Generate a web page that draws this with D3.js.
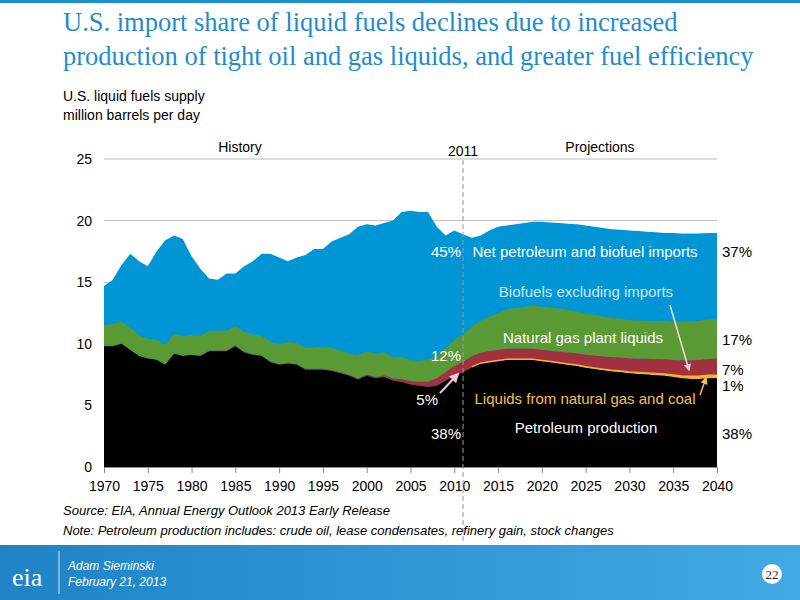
<!DOCTYPE html>
<html>
<head>
<meta charset="utf-8">
<script src="https://cdn.jsdelivr.net/npm/d3@7"></script>
<style>
  body { margin: 0; background: #fff; }
  svg { font-family: Arial, "Liberation Sans", sans-serif; }
</style>
</head>
<body>
<svg id="chart" width="800" height="600"></svg>
<script>
// years 1970..2040
const years = d3.range(1970, 2041);

// total liquid fuels supply (top of stack)
const total = [
  14.7,15.2,16.4,17.3,16.7,16.3,17.5,18.4,18.8,18.5,
  17.1,16.1,15.3,15.2,15.7,15.7,16.3,16.7,17.3,17.3,
  17.0,16.7,17.0,17.2,17.7,17.7,18.3,18.6,18.9,19.5,
  19.7,19.6,19.8,20.0,20.7,20.8,20.7,20.7,19.5,18.8,
  19.2,18.9,18.6,18.8,19.2,19.5,19.6,19.7,19.8,19.9,
  19.9,19.85,19.8,19.75,19.7,19.6,19.5,19.4,19.3,19.25,
  19.2,19.15,19.1,19.05,19.0,19.0,18.95,18.95,18.95,19.0,19.0
];
const petroleum = [
  9.8,9.8,10.0,9.5,9.0,8.8,8.7,8.3,9.2,9.0,
  9.1,9.0,9.4,9.4,9.4,9.8,9.3,9.1,9.0,8.5,
  8.3,8.4,8.3,7.9,7.9,7.9,7.8,7.6,7.4,7.1,
  7.4,7.2,7.3,7.0,6.9,6.7,6.6,6.5,6.6,7.0,
  7.4,7.7,8.1,8.4,8.5,8.6,8.7,8.7,8.7,8.7,
  8.6,8.5,8.4,8.3,8.2,8.05,7.95,7.85,7.75,7.7,
  7.6,7.55,7.5,7.45,7.4,7.3,7.2,7.15,7.15,7.2,7.2
];
const gasCoal = [
  0,0,0,0,0,0,0,0,0,0, 0,0,0,0,0,0,0,0,0,0,
  0,0,0,0,0,0,0,0,0,0, 0,0,0,0,0,0,0,0,0,0,
  0,0,0.03,0.03,0.04,0.04,0.04,0.05,0.05,0.05,
  0.05,0.06,0.06,0.07,0.07,0.08,0.08,0.09,0.1,0.1,
  0.11,0.12,0.13,0.14,0.15,0.17,0.19,0.21,0.23,0.24,0.25
];
const biofuels = [
  0,0,0,0,0,0,0,0,0,0, 0.02,0.03,0.04,0.05,0.05,0.05,0.05,0.05,0.05,0.05,
  0.05,0.05,0.06,0.07,0.07,0.07,0.06,0.07,0.08,0.08,
  0.1,0.1,0.12,0.18,0.22,0.26,0.32,0.42,0.6,0.7,
  0.8,0.85,0.85,0.85,0.85,0.85,0.85,0.85,0.85,0.85,
  0.85,0.87,0.9,0.92,0.95,0.98,1.0,1.02,1.05,1.08,
  1.1,1.12,1.15,1.17,1.2,1.22,1.25,1.28,1.3,1.33,1.35
];
const ngpl = [
  1.7,1.8,1.8,1.8,1.7,1.6,1.6,1.6,1.6,1.6,
  1.6,1.6,1.6,1.6,1.6,1.6,1.6,1.6,1.6,1.6,
  1.6,1.7,1.7,1.7,1.7,1.8,1.8,1.8,1.7,1.9,
  1.9,1.9,1.9,1.7,1.8,1.7,1.7,1.8,1.8,1.9,
  2.1,2.2,2.4,2.6,2.8,3.0,3.2,3.3,3.4,3.5,
  3.5,3.5,3.5,3.45,3.4,3.35,3.3,3.25,3.2,3.15,
  3.1,3.1,3.1,3.1,3.1,3.1,3.15,3.15,3.2,3.2,3.2
];
const yTicks = [0, 5, 10, 15, 20, 25];
const xTicks = d3.range(1970, 2041, 5);

const svg = d3.select('#chart');

// top blue rule and footer band
svg.append('rect').attr('x', 0).attr('y', 0).attr('width', 800).attr('height', 3).attr('fill', '#1a8fd1');
const grad = svg.append('defs').append('linearGradient').attr('id', 'foot');
grad.append('stop').attr('offset', '0%').attr('stop-color', '#1f83c6');
grad.append('stop').attr('offset', '100%').attr('stop-color', '#41a9e3');
svg.append('rect').attr('x', 0).attr('y', 545).attr('width', 800).attr('height', 55).attr('fill', 'url(#foot)');
svg.append('text').attr('x', 12).attr('y', 586).attr('fill', '#fff')
  .style('font-family', '"Liberation Serif", serif').style('font-size', '26px').text('eia');
svg.append('line').attr('x1', 59).attr('x2', 59).attr('y1', 551).attr('y2', 594).attr('stroke', '#cfe8f7');
svg.append('text').attr('x', 68).attr('y', 570).attr('fill', '#fff').style('font-style', 'italic').style('font-size', '12px').text('Adam Sieminski');
svg.append('text').attr('x', 68).attr('y', 586).attr('fill', '#fff').style('font-style', 'italic').style('font-size', '12px').text('February 21, 2013');
svg.append('circle').attr('cx', 772).attr('cy', 574).attr('r', 10).attr('fill', '#fff');
svg.append('text').attr('x', 772).attr('y', 579).attr('text-anchor', 'middle').attr('fill', '#333')
  .style('font-family', '"Liberation Serif", serif').style('font-size', '13px').text('22');

// title
const title = svg.append('text').attr('fill', '#1f8ccd')
  .style('font-family', '"Liberation Serif", "Times New Roman", serif').style('font-size', '26.5px');
title.append('tspan').attr('x', 63).attr('y', 31).text('U.S. import share of liquid fuels declines due to increased');
title.append('tspan').attr('x', 63).attr('y', 65).text('production of tight oil and gas liquids, and greater fuel efficiency');
svg.append('text').attr('x', 63).attr('y', 101).style('font-size', '14px').text('U.S. liquid fuels supply');
svg.append('text').attr('x', 63).attr('y', 120).style('font-size', '14px').text('million barrels per day');

// scales
const x = d3.scaleLinear().domain([1970, 2040]).range([104, 717]);
const y = d3.scaleLinear().domain([0, 25]).range([467, 159]);

// gridlines
svg.append('g').selectAll('line').data(yTicks.slice(1)).join('line')
  .attr('x1', 104).attr('x2', 717).attr('y1', d => y(d)).attr('y2', d => y(d))
  .attr('stroke', '#bbb').attr('stroke-width', 1);

// total area (imports visible above stack)
const rows = years.map((yr, i) => ({ year: yr, petroleum: petroleum[i], gasCoal: gasCoal[i], biofuels: biofuels[i], ngpl: ngpl[i], total: total[i] }));
svg.append('path').datum(rows)
  .attr('fill', '#0096d6')
  .attr('d', d3.area().x(d => x(d.year)).y0(y(0)).y1(d => y(d.total)));

const keys = ['petroleum', 'gasCoal', 'biofuels', 'ngpl'];
const colors = { petroleum: '#000', gasCoal: '#f5b51e', biofuels: '#a3303f', ngpl: '#5a9a35' };
const stacked = d3.stack().keys(keys)(rows);
// draw from top down so thin yellow band stays visible
svg.append('g').selectAll('path').data(stacked.slice().reverse()).join('path')
  .attr('fill', d => colors[d.key])
  .attr('d', d3.area().x(d => x(d.data.year)).y0(d => y(d[0])).y1(d => y(d[1])));
// yellow line at top of petroleum in projections
svg.append('path').datum(rows.filter(d => d.year >= 2012))
  .attr('fill', 'none').attr('stroke', '#f5b51e').attr('stroke-width', 1.5)
  .attr('d', d3.line().x(d => x(d.year)).y(d => y(d.petroleum + d.gasCoal)));

// axes
const xAxis = svg.append('g').attr('transform', `translate(0,${y(0)})`)
  .call(d3.axisBottom(x).tickValues(xTicks).tickFormat(d3.format('d')).tickSize(6).tickSizeOuter(0));
xAxis.select('.domain').attr('stroke', '#888');
xAxis.selectAll('.tick line').attr('stroke', '#888');
xAxis.selectAll('text').style('font-size', '14px').attr('fill', '#000').attr('dy', '1.1em');
const yAxis = svg.append('g').attr('transform', 'translate(104,0)')
  .call(d3.axisLeft(y).tickValues(yTicks).tickSize(0).tickPadding(12));
yAxis.select('.domain').remove();
yAxis.selectAll('text').style('font-size', '14px').attr('fill', '#000');

// 2011 divider
svg.append('line').attr('x1', x(2011)).attr('x2', x(2011)).attr('y1', 160).attr('y2', 543)
  .attr('stroke', '#999').attr('stroke-dasharray', '5,3');
svg.append('text').attr('x', 240).attr('y', 152).attr('text-anchor', 'middle').style('font-size', '14px').text('History');
svg.append('text').attr('x', x(2011)).attr('y', 156).attr('text-anchor', 'middle').style('font-size', '14px').text('2011');
svg.append('text').attr('x', 600).attr('y', 152).attr('text-anchor', 'middle').style('font-size', '14px').text('Projections');

// series labels
function label(tx, ty, t, fill, anchor) {
  svg.append('text').attr('x', tx).attr('y', ty).attr('fill', fill).attr('text-anchor', anchor || 'start')
    .style('font-size', '15px').text(t);
}
label(585, 257, 'Net petroleum and biofuel imports', '#fff', 'middle');
label(586, 297, 'Biofuels excluding imports', '#cde6f5', 'middle');
label(583, 343, 'Natural gas plant liquids', '#fff', 'middle');
label(585, 404, 'Liquids from natural gas and coal', '#f5c242', 'middle');
label(586, 433, 'Petroleum production', '#fff', 'middle');
label(461, 257, '45%', '#fff', 'end');
label(461, 361, '12%', '#fff', 'end');
label(438, 405, '5%', '#fff', 'end');
label(461, 439, '38%', '#fff', 'end');
label(722, 257, '37%', '#000');
label(722, 345, '17%', '#000');
label(722, 375, '7%', '#000');
label(722, 391, '1%', '#000');
label(722, 439, '38%', '#000');

// arrows
const defs = svg.select('defs');
[['aw', '#f2c4cc'], ['ay', '#f5c242']].forEach(([id, c]) => {
  defs.append('marker').attr('id', id).attr('viewBox', '0 0 10 10').attr('refX', 8).attr('refY', 5)
    .attr('markerWidth', 5).attr('markerHeight', 5).attr('orient', 'auto')
    .append('path').attr('d', 'M0,0L10,5L0,10z').attr('fill', c);
});
svg.append('line').attr('x1', 440).attr('y1', 393).attr('x2', 458).attr('y2', 374)
  .attr('stroke', '#f2c4cc').attr('stroke-width', 2).attr('marker-end', 'url(#aw)');
svg.append('line').attr('x1', 670).attr('y1', 305).attr('x2', 689).attr('y2', 370)
  .attr('stroke', '#f2dde0').attr('stroke-width', 1.5).attr('marker-end', 'url(#aw)');
svg.append('line').attr('x1', 700).attr('y1', 395).attr('x2', 706).attr('y2', 378)
  .attr('stroke', '#f5c242').attr('stroke-width', 1.5).attr('marker-end', 'url(#ay)');

// notes
svg.append('text').attr('x', 63).attr('y', 515).style('font-size', '13px').style('font-style', 'italic')
  .text('Source:  EIA, Annual Energy Outlook 2013 Early Release');
svg.append('text').attr('x', 63).attr('y', 535).style('font-size', '13px').style('font-style', 'italic')
  .text('Note: Petroleum production includes: crude oil, lease condensates, refinery gain, stock changes');
</script>
</body>
</html>
